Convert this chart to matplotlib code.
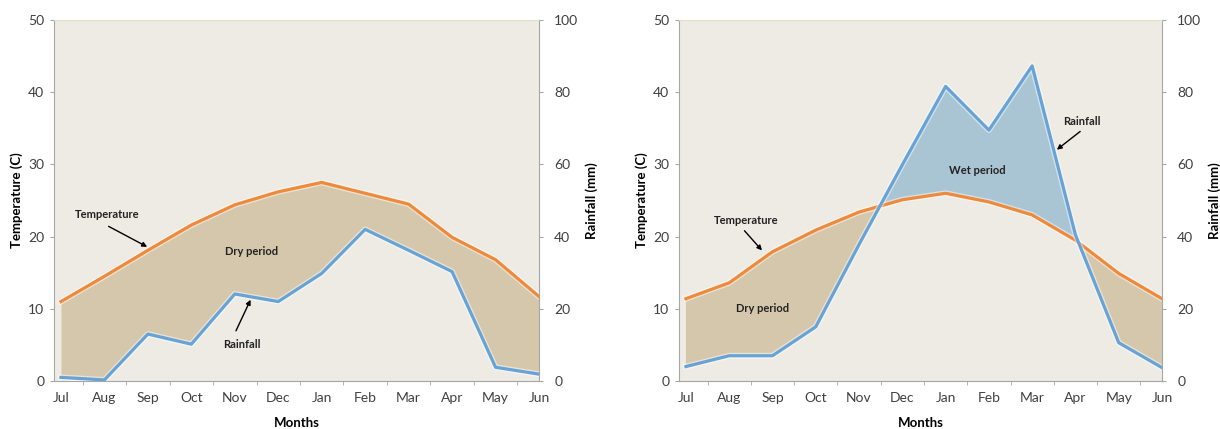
import matplotlib.pyplot as plt
import numpy as np

# data
months = ['Jul', 'Aug', 'Sep', 'Oct', 'Nov', 'Dec', 'Jan', 'Feb', 'Mar', 'Apr', 'May', 'Jun']

temp_a = [11.0, 14.5, 18.1, 21.6, 24.4, 26.2, 27.5, 26.0, 24.5, 19.9, 16.8, 11.7]
rain_a = [1.0, 0.3, 13.0, 10.2, 24.1, 22.0, 29.8, 42.0, 36.2, 30.3, 3.8, 1.9]

temp_b = [11.4, 13.6, 17.9, 20.9, 23.4, 25.1, 26.0, 24.8, 23.0, 19.5, 14.9, 11.4]
rain_b = [4.0, 7.0, 7.0, 15.0, 37.8, 59.9, 81.6, 69.5, 87.3, 40.5, 10.6, 3.7]

BG = '#eeebe4'
TAN = '#d4c7ab'
WET = '#a9c5d3'
ORANGE = '#ef8a3b'
BLUE = '#67a3d6'
SPINE = '#a6a6a6'
TXT = '#404040'

plt.rcParams['font.family'] = ['Lato', 'DejaVu Sans']


def panel(ax, temp, rain, notes):
    x = np.arange(len(months))
    temp = np.array(temp)
    rain_t = np.array(rain) / 2.0   # rainfall on the temperature scale (2 mm = 1 C)
    ax.set_facecolor(BG)
    ax.fill_between(x, temp, rain_t, where=temp >= rain_t, interpolate=True,
                    color=TAN, lw=0, zorder=1)
    ax.fill_between(x, temp, rain_t, where=rain_t >= temp, interpolate=True,
                    color=WET, lw=0, zorder=1)
    ax.plot(x, temp, color='white', lw=4.2, alpha=0.5, zorder=2)
    ax.plot(x, temp, color=ORANGE, lw=2.3, zorder=3)
    ax.set_xlim(-0.16, 11)
    ax.set_ylim(0, 50)
    ax.set_yticks(range(0, 51, 10))
    ax.set_xticks(x)
    ax.set_xticklabels(months)
    ax.set_xticks(x[:-1] + 0.5, minor=True)
    ax.tick_params(axis='x', which='major', length=0, pad=8, labelsize=10, labelcolor=TXT)
    ax.tick_params(axis='x', which='minor', length=3, color=SPINE, direction='out')
    ax.tick_params(axis='y', length=3, color=SPINE, labelsize=10, labelcolor=TXT, pad=4)
    ax.set_ylabel('Temperature (C)', fontsize=9.5, fontweight='bold', color='black', labelpad=4)
    ax.set_xlabel('Months', fontsize=9.5, fontweight='bold', color='black', labelpad=9)
    for s in ['left', 'bottom', 'right']:
        ax.spines[s].set_color(SPINE)
    ax.spines['top'].set_color('#e4dfcd')

    ax2 = ax.twinx()
    ax2.plot(x, rain, color='white', lw=4.2, alpha=0.5, zorder=2)
    ax2.plot(x, rain, color=BLUE, lw=2.3, zorder=3)
    ax2.set_ylim(0, 100)
    ax2.set_yticks(range(0, 101, 20))
    ax2.tick_params(axis='y', length=3, color=SPINE, labelsize=10, labelcolor=TXT, pad=8)
    ax2.set_ylabel('Rainfall (mm)', fontsize=9.5, fontweight='bold', color='black', labelpad=5)
    for s in ax2.spines.values():
        s.set_visible(False)

    for text, pos, tail, tip in notes:
        ax.text(pos[0], pos[1], text, fontsize=8, fontweight='bold', color='#222222',
                ha='center', va='center', zorder=5)
        if tip is not None:
            ax.annotate('', xy=tip, xytext=tail, zorder=5,
                        arrowprops=dict(arrowstyle='-|>', color='black', lw=1.0,
                                        mutation_scale=7))


fig = plt.figure(figsize=(12.2, 4.29), dpi=100)
ax_a = fig.add_axes([54 / 1220, 1 - 381 / 429, 485 / 1220, 361 / 429])
ax_b = fig.add_axes([679 / 1220, 1 - 381 / 429, 483 / 1220, 361 / 429])

panel(ax_a, temp_a, rain_a, [
    ('Temperature', (1.07, 23.0), (1.04, 21.6), (2.04, 18.4)),
    ('Dry period', (4.38, 17.9), None, None),
    ('Rainfall', (4.17, 5.1), (4.0, 6.6), (4.39, 11.6)),
])
panel(ax_b, temp_b, rain_b, [
    ('Temperature', (1.39, 22.2), (1.31, 21.1), (1.8, 17.8)),
    ('Dry period', (1.78, 10.1), None, None),
    ('Wet period', (6.74, 29.1), None, None),
    ('Rainfall', (9.16, 35.9), (9.16, 34.8), (8.52, 31.8)),
])

fig.savefig('out.png', dpi=100)
